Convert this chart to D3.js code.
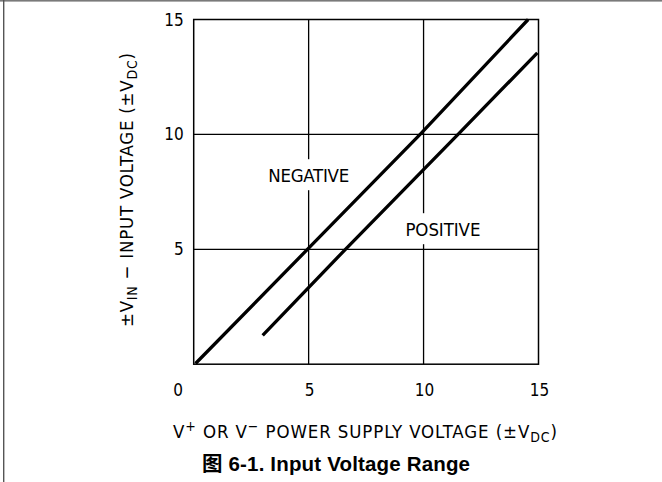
<!DOCTYPE html>
<html><head><meta charset="utf-8">
<script src="https://cdn.jsdelivr.net/npm/d3@7"></script>
<style>
html,body{margin:0;padding:0;background:#fff;}
svg{display:block;}
.plot{font-family:"DejaVu Sans Condensed","DejaVu Sans",sans-serif;font-stretch:condensed;}
</style>
</head><body>
<svg id="chart" width="662" height="482"></svg>
<script>
// ---- data ----
const xTicks = [0, 5, 10, 15];
const yTicks = [5, 10, 15];
const gridX = [5, 10];
const gridY = [5, 10];
const negativeX = [0.08, 5.0, 9.85, 14.55];
const negativeY = [0.03, 5.05, 10.0, 15.0];
const positiveX = [3.0, 6.6, 11.5, 14.95];
const positiveY = [1.25, 5.0, 10.0, 13.55];
const curveLabels = ["NEGATIVE", "POSITIVE"];
const titleText = "图 6-1. Input Voltage Range";

const svg = d3.select("#chart");
// outer border (top & left)
svg.append("rect").attr("x",0).attr("y",0).attr("width",662).attr("height",1.6).attr("fill","#7a7a7a");
svg.append("rect").attr("x",3).attr("y",0).attr("width",1.4).attr("height",482).attr("fill","#555");

const x = d3.scaleLinear().domain([0,15]).range([193.7,538.5]);
const y = d3.scaleLinear().domain([0,15]).range([364.2,19.5]);

const g = svg.append("g").attr("class","plot");

// grid
g.selectAll("line.gx").data(gridX).join("line").attr("class","gx")
  .attr("x1",d=>x(d)).attr("x2",d=>x(d)).attr("y1",y(0)).attr("y2",y(15))
  .attr("stroke","#000").attr("stroke-width",1.3);
g.selectAll("line.gy").data(gridY).join("line").attr("class","gy")
  .attr("y1",d=>y(d)).attr("y2",d=>y(d)).attr("x1",x(0)).attr("x2",x(15))
  .attr("stroke","#000").attr("stroke-width",1.3);
// frame
g.append("rect").attr("x",x(0)).attr("y",y(15)).attr("width",x(15)-x(0)).attr("height",y(0)-y(15))
  .attr("fill","none").attr("stroke","#000").attr("stroke-width",1.5);

function fit(sel, target){
  const n = sel.text().length;
  sel.attr("letter-spacing",0);
  const w = sel.node().getBBox().width;
  sel.attr("letter-spacing", (target - w)/Math.max(1,n-1));
}

// tick labels
g.selectAll("text.xt").data(xTicks).join("text").attr("class","xt")
  .attr("x",d=>x(d) + (d===0 ? -15.5 : 1))
  .attr("y",395.5).attr("text-anchor","middle").attr("font-size",17).text(d=>d);
g.selectAll("text.yt").data(yTicks).join("text").attr("class","yt")
  .attr("x",x(0)-10).attr("y",d=>y(d)+6).attr("text-anchor","end").attr("font-size",17).text(d=>d);

// curve lines
const line = d3.line().x(d=>x(d[0])).y(d=>y(d[1]));
const series = [d3.zip(negativeX,negativeY), d3.zip(positiveX,positiveY)];
g.selectAll("path.curve").data(series).join("path").attr("class","curve")
  .attr("d",line).attr("fill","none").attr("stroke","#000").attr("stroke-width",3.3);

// curve labels with white backgrounds
const labelPos = [[5.0, 7.92], [10.84, 5.57]];
const labelW = [81, 75];
curveLabels.forEach((t,i)=>{
  const lg = g.append("g");
  const bg = lg.append("rect").attr("fill","#fff");
  const tx = lg.append("text").attr("x",x(labelPos[i][0])).attr("y",y(labelPos[i][1]))
    .attr("text-anchor","middle").attr("font-size",18.5).text(t);
  fit(tx, labelW[i]);
  const b = tx.node().getBBox();
  bg.attr("x",b.x-3).attr("y",b.y-6).attr("width",b.width+6).attr("height",b.height+10);
});

function rich(sel, parts){
  let shift = 0;
  parts.forEach(p=>{
    const ts = sel.append("tspan").text(p.t);
    let target = p.sub ? 4 : (p.sup ? -7 : 0);
    if (target !== shift) { ts.attr("dy", target - shift); shift = target; }
    if (p.sub || p.sup) ts.attr("font-size", 14);
  });
}

// x axis title
const xt = g.append("text").attr("x",173).attr("y",437.5).attr("font-size",18.5);
rich(xt, [{t:"V"},{t:"+",sup:true},{t:" OR V"},{t:"−",sup:true},{t:" POWER SUPPLY VOLTAGE (±V"},{t:"DC",sub:true},{t:")"}]);
fit(xt, 384);

// y axis title
const yt = g.append("text").attr("transform","translate(133,327) rotate(-90)").attr("x",0).attr("y",0).attr("font-size",18.5);
rich(yt, [{t:"±V"},{t:"IN",sub:true},{t:" − INPUT VOLTAGE (±V"},{t:"DC",sub:true},{t:")"}]);
fit(yt, 274);

// figure title
const tt = svg.append("text").attr("x",202).attr("y",470.5)
  .attr("font-family","'Liberation Sans','Noto Sans CJK SC',Arial,sans-serif")
  .attr("font-weight","bold").attr("font-size",20.5).attr("fill","#000")
  .text(titleText);
fit(tt, 268);
</script>
</body></html>
